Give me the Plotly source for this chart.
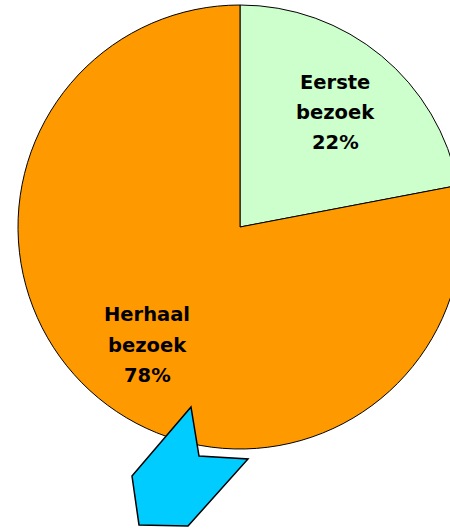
import plotly.graph_objects as go

# ---- data ----
labels = ["Eerste bezoek", "Herhaal bezoek"]
label_lines = [["Eerste", "bezoek"], ["Herhaal", "bezoek"]]
values = [22, 78]
colors = ["#CCFFCC", "#FF9900"]

# ---- geometry (pixels) ----
FIG_W, FIG_H = 480, 529
CX, CY, R = 240, 227, 222


def px(x):
    return x / FIG_W


def py(y):
    return 1 - y / FIG_H


fig = go.Figure()
fig.add_trace(go.Pie(
    labels=labels,
    values=values,
    marker=dict(colors=colors, line=dict(color="#000000", width=1)),
    sort=False,
    direction="clockwise",
    rotation=0,
    textinfo="none",
    hoverinfo="label+percent",
    showlegend=False,
    domain=dict(x=[px(CX - R), px(CX + R)], y=[py(CY + R), py(CY - R)]),
))

# label positions (pixel centres of the three text lines)
label_pos = [(335, [82, 112, 142]), (147, [314, 345, 375])]
total = sum(values)
annotations = []
for (lx, ys), lines, v in zip(label_pos, label_lines, values):
    texts = lines + [f"{round(100 * v / total)}%"]
    for t, yy in zip(texts, ys):
        annotations.append(dict(
            x=px(lx), y=py(yy), xref="paper", yref="paper",
            text=f"<b>{t}</b>", showarrow=False,
            font=dict(family="DejaVu Sans", size=19.5, color="#000000"),
            xanchor="center", yanchor="middle",
        ))

# decorative blue arrow
arrow_pts = [(191, 407), (199, 456), (248, 459), (188, 526), (139, 525), (132, 476)]
path = "M " + " L ".join(f"{px(x):.5f},{py(y):.5f}" for x, y in arrow_pts) + " Z"

fig.update_layout(
    width=FIG_W, height=FIG_H,
    margin=dict(l=0, r=0, t=0, b=0),
    paper_bgcolor="#FFFFFF",
    plot_bgcolor="#FFFFFF",
    annotations=annotations,
    shapes=[dict(type="path", path=path, xref="paper", yref="paper",
                 fillcolor="#00CCFF", line=dict(color="#000000", width=1.5),
                 layer="above")],
)

fig.write_html(
    "out.html",
    config={"displayModeBar": False},
    post_script="document.body.style.margin='0';document.body.style.overflow='hidden';",
)
